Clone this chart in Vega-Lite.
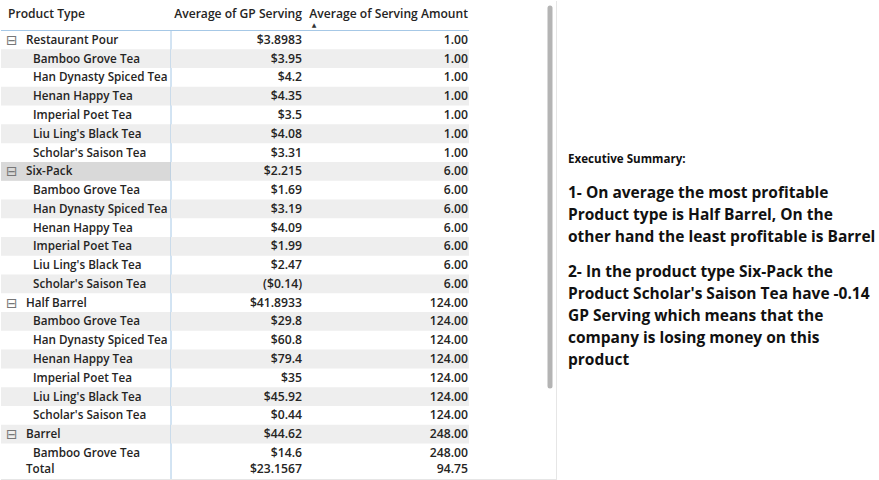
{
  "$schema": "https://vega.github.io/schema/vega-lite/v6.json",
  "padding": 0,
  "background": "white",
  "spacing": 0,
  "bounds": "flush",
  "config": {
    "view": {"stroke": null},
    "text": {"font": "Open Sans", "fontWeight": 600, "fontSize": 11.7, "color": "#252423"}
  },
  "datasets": {
    "table": [
      {"row": 1, "level": "group", "name": "Restaurant Pour", "gp": 3.8983, "amt": 1},
      {"row": 2, "level": "child", "name": "Bamboo Grove Tea", "gp": 3.95, "amt": 1},
      {"row": 3, "level": "child", "name": "Han Dynasty Spiced Tea", "gp": 4.2, "amt": 1},
      {"row": 4, "level": "child", "name": "Henan Happy Tea", "gp": 4.35, "amt": 1},
      {"row": 5, "level": "child", "name": "Imperial Poet Tea", "gp": 3.5, "amt": 1},
      {"row": 6, "level": "child", "name": "Liu Ling's Black Tea", "gp": 4.08, "amt": 1},
      {"row": 7, "level": "child", "name": "Scholar's Saison Tea", "gp": 3.31, "amt": 1},
      {"row": 8, "level": "group", "name": "Six-Pack", "gp": 2.215, "amt": 6},
      {"row": 9, "level": "child", "name": "Bamboo Grove Tea", "gp": 1.69, "amt": 6},
      {"row": 10, "level": "child", "name": "Han Dynasty Spiced Tea", "gp": 3.19, "amt": 6},
      {"row": 11, "level": "child", "name": "Henan Happy Tea", "gp": 4.09, "amt": 6},
      {"row": 12, "level": "child", "name": "Imperial Poet Tea", "gp": 1.99, "amt": 6},
      {"row": 13, "level": "child", "name": "Liu Ling's Black Tea", "gp": 2.47, "amt": 6},
      {"row": 14, "level": "child", "name": "Scholar's Saison Tea", "gp": -0.14, "amt": 6},
      {"row": 15, "level": "group", "name": "Half Barrel", "gp": 41.8933, "amt": 124},
      {"row": 16, "level": "child", "name": "Bamboo Grove Tea", "gp": 29.8, "amt": 124},
      {"row": 17, "level": "child", "name": "Han Dynasty Spiced Tea", "gp": 60.8, "amt": 124},
      {"row": 18, "level": "child", "name": "Henan Happy Tea", "gp": 79.4, "amt": 124},
      {"row": 19, "level": "child", "name": "Imperial Poet Tea", "gp": 35, "amt": 124},
      {"row": 20, "level": "child", "name": "Liu Ling's Black Tea", "gp": 45.92, "amt": 124},
      {"row": 21, "level": "child", "name": "Scholar's Saison Tea", "gp": 0.44, "amt": 124},
      {"row": 22, "level": "group", "name": "Barrel", "gp": 44.62, "amt": 248},
      {"row": 23, "level": "child", "name": "Bamboo Grove Tea", "gp": 14.6, "amt": 248},
      {"row": 24, "level": "total", "name": "Total", "gp": 23.1567, "amt": 94.75}
    ],
    "summary": [
      {"line": 0, "para": 0, "text": "Executive Summary:"},
      {"line": 1, "para": 1, "text": "1- On average the most profitable"},
      {"line": 2, "para": 1, "text": "Product type is Half Barrel, On the"},
      {"line": 3, "para": 1, "text": "other hand the least profitable is Barrel"},
      {"line": 4, "para": 2, "text": "2- In the product type Six-Pack the"},
      {"line": 5, "para": 2, "text": "Product Scholar's Saison Tea have -0.14"},
      {"line": 6, "para": 2, "text": "GP Serving which means that the"},
      {"line": 7, "para": 2, "text": "company is losing money on this"},
      {"line": 8, "para": 2, "text": "product"}
    ]
  },
  "hconcat": [
    {
      "width": 170,
      "height": 480,
      "data": {"name": "table"},
      "layer": [
        {
          "transform": [{"filter": "datum.row % 2 == 0 && datum.level != 'total'"}],
          "mark": {"type": "rect", "color": "#eeeeee"},
          "encoding": {
            "y": {"field": "row", "type": "ordinal", "axis": null, "scale": {"domain": [0,1,2,3,4,5,6,7,8,9,10,11,12,13,14,15,16,17,18,19,20,21,22,23,24], "paddingInner": 0, "paddingOuter": 0.286, "align": 1}}
          }
        },
        {
          "transform": [{"filter": "datum.name == 'Six-Pack'"}],
          "mark": {"type": "rect", "color": "#d9d9d9"},
          "encoding": {
            "y": {"field": "row", "type": "ordinal", "axis": null}
          }
        },
        {
          "data": {"values": [{"label": "Product Type"}]},
          "mark": {"type": "text", "align": "left", "baseline": "middle", "dx": 7, "dy": -7, "fontSize": 12.1},
          "encoding": {
            "x": {"value": 0},
            "y": {"datum": 0, "type": "ordinal", "axis": null},
            "text": {"field": "label"}
          }
        },
        {
          "data": {"values": [{"label": "Product Type"}]},
          "mark": {"type": "rule", "color": "#a6c8e6", "strokeWidth": 1},
          "encoding": {
            "y": {"datum": 1, "type": "ordinal", "axis": null, "bandPosition": 0}
          }
        },
        {
          "data": {"values": [{"label": "Product Type"}]},
          "mark": {"type": "rule", "color": "#a6c8e6", "strokeWidth": 1},
          "encoding": {
            "x": {"value": "width"},
            "y": {"datum": 1, "type": "ordinal", "axis": null, "bandPosition": 0},
            "y2": {"value": "height"}
          }
        },
        {
          "transform": [{"filter": "datum.level == 'group'"}],
          "mark": {"type": "text", "align": "left", "baseline": "middle", "dx": 5, "dy": 1, "font": "DejaVu Sans", "fontWeight": "normal", "fontSize": 14, "color": "#777777"},
          "encoding": {
            "x": {"value": 0},
            "y": {"field": "row", "type": "ordinal", "axis": null},
            "text": {"value": "⊟"}
          }
        },
        {
          "transform": [{"filter": "datum.level == 'group'"}],
          "mark": {"type": "text", "align": "left", "baseline": "middle", "dx": 25},
          "encoding": {
            "x": {"value": 0},
            "y": {"field": "row", "type": "ordinal", "axis": null},
            "text": {"field": "name"}
          }
        },
        {
          "transform": [{"filter": "datum.level == 'total'"}],
          "mark": {"type": "text", "align": "left", "baseline": "middle", "dx": 25, "dy": -3},
          "encoding": {
            "x": {"value": 0},
            "y": {"field": "row", "type": "ordinal", "axis": null},
            "text": {"field": "name"}
          }
        },
        {
          "transform": [{"filter": "datum.level == 'child'"}],
          "mark": {"type": "text", "align": "left", "baseline": "middle", "dx": 32},
          "encoding": {
            "x": {"value": 0},
            "y": {"field": "row", "type": "ordinal", "axis": null},
            "text": {"field": "name"}
          }
        },
        {
          "data": {"values": [{"label": "Product Type"}]},
          "mark": {"type": "rule", "color": "#e6e6e6", "strokeWidth": 1},
          "encoding": {"y": {"value": 478.5}}
        }
      ]
    },
    {
      "width": 135,
      "height": 480,
      "data": {"name": "table"},
      "layer": [
        {
          "transform": [{"filter": "datum.row % 2 == 0 && datum.level != 'total'"}],
          "mark": {"type": "rect", "color": "#eeeeee"},
          "encoding": {
            "y": {"field": "row", "type": "ordinal", "axis": null, "scale": {"domain": [0,1,2,3,4,5,6,7,8,9,10,11,12,13,14,15,16,17,18,19,20,21,22,23,24], "paddingInner": 0, "paddingOuter": 0.286, "align": 1}}
          }
        },
        {
          "data": {"values": [{"label": "Average of GP Serving"}]},
          "mark": {"type": "text", "align": "right", "baseline": "middle", "dx": -4, "dy": -7, "fontSize": 12.1},
          "encoding": {
            "x": {"value": "width"},
            "y": {"datum": 0, "type": "ordinal", "axis": null},
            "text": {"field": "label"}
          }
        },
        {
          "data": {"values": [{"label": "Average of GP Serving"}]},
          "mark": {"type": "rule", "color": "#a6c8e6", "strokeWidth": 1},
          "encoding": {
            "y": {"datum": 1, "type": "ordinal", "axis": null, "bandPosition": 0}
          }
        },
        {
          "transform": [{"filter": "datum.level != 'total'"}],
          "mark": {"type": "text", "align": "right", "baseline": "middle", "dx": -4, "fontSize": 12.2},
          "encoding": {
            "x": {"value": "width"},
            "y": {"field": "row", "type": "ordinal", "axis": null},
            "text": {"field": "gp", "type": "quantitative", "format": "($.4~f"}
          }
        },
        {
          "transform": [{"filter": "datum.level == 'total'"}],
          "mark": {"type": "text", "align": "right", "baseline": "middle", "dx": -4, "dy": -3, "fontSize": 12.2},
          "encoding": {
            "x": {"value": "width"},
            "y": {"field": "row", "type": "ordinal", "axis": null},
            "text": {"field": "gp", "type": "quantitative", "format": "($.4~f"}
          }
        },
        {
          "data": {"values": [{"label": "Average of GP Serving"}]},
          "mark": {"type": "rule", "color": "#e6e6e6", "strokeWidth": 1},
          "encoding": {"y": {"value": 478.5}}
        }
      ]
    },
    {
      "width": 163,
      "height": 480,
      "data": {"name": "table"},
      "layer": [
        {
          "transform": [{"filter": "datum.row % 2 == 0 && datum.level != 'total'"}],
          "mark": {"type": "rect", "color": "#eeeeee"},
          "encoding": {
            "y": {"field": "row", "type": "ordinal", "axis": null, "scale": {"domain": [0,1,2,3,4,5,6,7,8,9,10,11,12,13,14,15,16,17,18,19,20,21,22,23,24], "paddingInner": 0, "paddingOuter": 0.286, "align": 1}}
          }
        },
        {
          "data": {"values": [{"label": "Average of Serving Amount"}]},
          "mark": {"type": "text", "align": "right", "baseline": "middle", "dx": -1, "dy": -7, "fontSize": 12.1},
          "encoding": {
            "x": {"value": "width"},
            "y": {"datum": 0, "type": "ordinal", "axis": null},
            "text": {"field": "label"}
          }
        },
        {
          "data": {"values": [{"label": "Average of Serving Amount"}]},
          "mark": {"type": "text", "align": "center", "baseline": "middle", "dx": 8, "dy": 4, "font": "DejaVu Sans", "fontWeight": "normal", "fontSize": 6, "color": "#333333"},
          "encoding": {
            "x": {"value": 0},
            "y": {"datum": 0, "type": "ordinal", "axis": null},
            "text": {"value": "▲"}
          }
        },
        {
          "data": {"values": [{"label": "Average of Serving Amount"}]},
          "mark": {"type": "rule", "color": "#a6c8e6", "strokeWidth": 1},
          "encoding": {
            "y": {"datum": 1, "type": "ordinal", "axis": null, "bandPosition": 0}
          }
        },
        {
          "transform": [{"filter": "datum.level != 'total'"}],
          "mark": {"type": "text", "align": "right", "baseline": "middle", "dx": -1, "fontSize": 12.2},
          "encoding": {
            "x": {"value": "width"},
            "y": {"field": "row", "type": "ordinal", "axis": null},
            "text": {"field": "amt", "type": "quantitative", "format": ".2f"}
          }
        },
        {
          "transform": [{"filter": "datum.level == 'total'"}],
          "mark": {"type": "text", "align": "right", "baseline": "middle", "dx": -1, "dy": -3, "fontSize": 12.2},
          "encoding": {
            "x": {"value": "width"},
            "y": {"field": "row", "type": "ordinal", "axis": null},
            "text": {"field": "amt", "type": "quantitative", "format": ".2f"}
          }
        },
        {
          "data": {"values": [{"label": "Average of Serving Amount"}]},
          "mark": {"type": "rule", "color": "#e6e6e6", "strokeWidth": 1},
          "encoding": {"y": {"value": 478.5}}
        }
      ]
    },
    {
      "width": 88,
      "height": 480,
      "data": {"values": [{"label": "scroll"}]},
      "layer": [
        {
          "mark": {"type": "rule", "color": "#b4b4b4", "strokeWidth": 5, "strokeCap": "round"},
          "encoding": {"x": {"value": 81}, "y": {"value": 7}, "y2": {"value": 385}}
        },
        {
          "mark": {"type": "rule", "color": "#e6e6e6", "strokeWidth": 1},
          "encoding": {"y": {"value": 478.5}}
        },
        {
          "mark": {"type": "rule", "color": "#e6e6e6", "strokeWidth": 1},
          "encoding": {"x": {"value": 87.5}, "y": {"value": 0}, "y2": {"value": 478.5}}
        }
      ]
    },
    {
      "width": 323,
      "height": 480,
      "data": {"name": "summary"},
      "layer": [
        {
          "transform": [{"filter": "datum.para == 0"}],
          "mark": {"type": "text", "align": "left", "baseline": "middle", "dx": 11, "dy": -11, "font": "Open Sans", "fontWeight": "bold", "fontSize": 11.6, "color": "#111111"},
          "encoding": {
            "x": {"value": 0},
            "y": {"field": "line", "type": "quantitative", "axis": null, "scale": {"domain": [-7.727, 14.091], "nice": false, "zero": false, "reverse": true}},
            "text": {"field": "text"}
          }
        },
        {
          "transform": [{"filter": "datum.para == 1"}],
          "mark": {"type": "text", "align": "left", "baseline": "middle", "dx": 11, "font": "Open Sans", "fontWeight": "bold", "fontSize": 15.5, "color": "#111111"},
          "encoding": {
            "x": {"value": 0},
            "y": {"field": "line", "type": "quantitative", "axis": null},
            "text": {"field": "text"}
          }
        },
        {
          "transform": [{"filter": "datum.para == 2"}],
          "mark": {"type": "text", "align": "left", "baseline": "middle", "dx": 11, "dy": 13, "font": "Open Sans", "fontWeight": "bold", "fontSize": 15.5, "color": "#111111"},
          "encoding": {
            "x": {"value": 0},
            "y": {"field": "line", "type": "quantitative", "axis": null},
            "text": {"field": "text"}
          }
        }
      ]
    }
  ]
}
